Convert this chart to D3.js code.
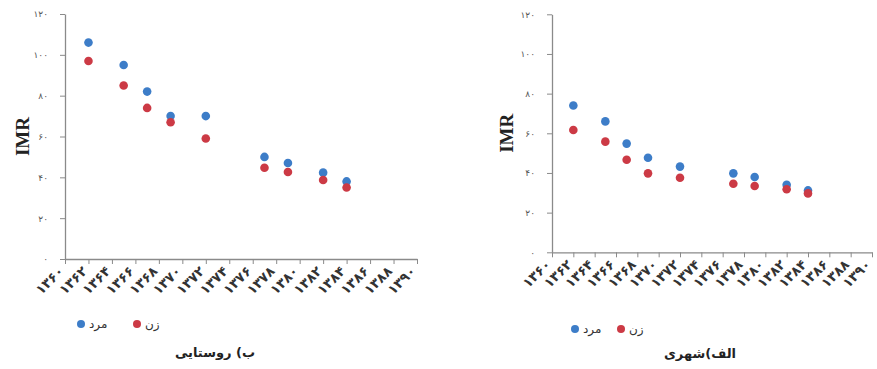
<!DOCTYPE html>
<html>
<head>
<meta charset="utf-8">
<script src="https://cdn.jsdelivr.net/npm/d3@7"></script>
<style>
  body { margin: 0; background: #fff; }
  svg { display: block; }
  .fa { font-family: "DejaVu Sans", sans-serif; }
</style>
</head>
<body>
<div id="chart"></div>
<script>
// data
const years = [1362, 1365, 1367, 1369, 1372, 1377, 1379, 1382, 1384];
const ruralMale   = [106, 95, 82, 70, 70, 50, 47, 42.3, 38];
const ruralFemale = [97, 85, 74, 67, 59, 44.7, 42.6, 38.7, 35];
const urbanMale   = [74, 66, 54.8, 47.7, 43.2, 39.8, 38, 34, 31.2];
const urbanFemale = [61.7, 55.8, 46.7, 39.8, 37.6, 34.6, 33.4, 31.8, 29.7];
const yTicks = [0, 20, 40, 60, 80, 100, 120];
const xTicks = d3.range(1360, 1392, 2);
const seriesNames = ['مرد', 'زن'];
const colors = ['#3d7dc8', '#cc3a45'];

const toFa = s => String(s).replace(/\d/g, c => '۰۱۲۳۴۵۶۷۸۹'[+c]);

const svg = d3.select('#chart').append('svg')
  .attr('width', 877).attr('height', 369);

const panels = [
  { title: 'ب) روستایی', male: ruralMale, female: ruralFemale,
    x0: 65, x1: 417, yTop: 14, yBot: 259, ylabX: 22,
    legX: 81, legY: 324, legGap: 56, titleX: 215, titleY: 357 },
  { title: 'الف)شهری', male: urbanMale, female: urbanFemale,
    x0: 552, x1: 872, yTop: 14.3, yBot: 252.3, ylabX: 506,
    legX: 575, legY: 329, legGap: 46, titleX: 700, titleY: 358 }
];

panels.forEach(p => {
  const x = d3.scaleLinear().domain([1360, 1390]).range([p.x0, p.x1]);
  const y = d3.scaleLinear().domain([0, 120]).range([p.yBot, p.yTop]);

  // y axis
  svg.append('g')
    .attr('transform', 'translate(' + p.x0 + ',0)')
    .call(d3.axisLeft(y).tickValues(yTicks).tickSize(5).tickSizeOuter(0).tickFormat(toFa))
    .call(g => g.select('.domain').attr('stroke', '#8a8a8a').attr('stroke-width', 1.3))
    .call(g => g.selectAll('.tick line').attr('stroke', '#8a8a8a'))
    .call(g => g.selectAll('.tick text')
      .attr('class', 'fa')
      .attr('x', -17)
      .style('font-size', '9px')
      .attr('fill', '#555'));

  // x axis
  svg.append('g')
    .attr('transform', 'translate(0,' + p.yBot + ')')
    .call(d3.axisBottom(x).tickValues(xTicks).tickSize(5).tickSizeOuter(0).tickFormat(toFa))
    .call(g => g.select('.domain').attr('stroke', '#8a8a8a').attr('stroke-width', 1.3))
    .call(g => g.selectAll('.tick line').attr('stroke', '#8a8a8a'))
    .call(g => g.selectAll('.tick text')
      .attr('class', 'fa')
      .attr('text-anchor', 'end')
      .attr('dy', null)
      .attr('y', 0)
      .attr('transform', 'translate(-1,13) rotate(-45)')
      .style('font-size', '13.5px')
      .style('font-weight', 'bold')
      .attr('fill', '#333'));

  // IMR label
  svg.append('text')
    .attr('transform', 'translate(' + p.ylabX + ',' + ((p.yTop + p.yBot) / 2) + ') rotate(-90)')
    .attr('text-anchor', 'middle')
    .attr('dy', '0.35em')
    .style('font-family', '"Liberation Serif", serif')
    .style('font-size', '19px')
    .style('font-weight', 'bold')
    .attr('fill', '#222')
    .text('IMR');

  // points
  [p.male, p.female].forEach((vals, i) => {
    svg.append('g')
      .selectAll('circle')
      .data(vals)
      .enter()
      .append('circle')
      .attr('cx', (d, j) => x(years[j]))
      .attr('cy', d => y(d))
      .attr('r', 4.3)
      .attr('fill', colors[i]);
  });

  // legend
  const leg = svg.append('g').attr('transform', 'translate(' + p.legX + ',' + p.legY + ')');
  seriesNames.forEach((name, i) => {
    leg.append('circle')
      .attr('cx', i * p.legGap)
      .attr('cy', 0)
      .attr('r', 4)
      .attr('fill', colors[i]);
    leg.append('text')
      .attr('class', 'fa')
      .attr('x', i * p.legGap + 8)
      .attr('y', 0)
      .attr('dy', '0.35em')
      .attr('text-anchor', 'start')
      .style('font-size', '12px')
      .attr('fill', '#333')
      .text(name);
  });

  // panel title
  svg.append('text')
    .attr('class', 'fa')
    .attr('x', p.titleX)
    .attr('y', p.titleY)
    .attr('text-anchor', 'middle')
    .style('font-size', '13px')
    .style('font-weight', 'bold')
    .attr('fill', '#222')
    .text(p.title);
});
</script>
</body>
</html>
